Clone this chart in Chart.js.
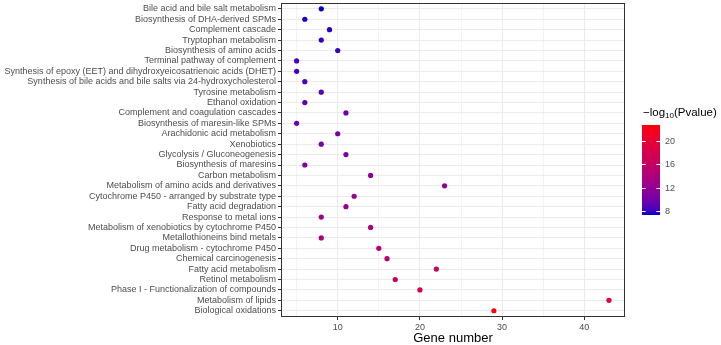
<!DOCTYPE html>
<html>
<head>
<meta charset="utf-8">
<script src="https://cdn.jsdelivr.net/npm/chart.js@4/dist/chart.umd.min.js"></script>
<style>
  html, body { margin: 0; padding: 0; background: #fff; }
  #wrap { width: 721px; height: 345px; }
</style>
</head>
<body>
<div id="wrap"><canvas id="dotChart"></canvas></div>
<script>
// Pathways, top to bottom
const pathways = [
    'Bile acid and bile salt metabolism',
    'Biosynthesis of DHA-derived SPMs',
    'Complement cascade',
    'Tryptophan metabolism',
    'Biosynthesis of amino acids',
    'Terminal pathway of complement',
    'Synthesis of epoxy (EET) and dihydroxyeicosatrienoic acids (DHET)',
    'Synthesis of bile acids and bile salts via 24-hydroxycholesterol',
    'Tyrosine metabolism',
    'Ethanol oxidation',
    'Complement and coagulation cascades',
    'Biosynthesis of maresin-like SPMs',
    'Arachidonic acid metabolism',
    'Xenobiotics',
    'Glycolysis / Gluconeogenesis',
    'Biosynthesis of maresins',
    'Carbon metabolism',
    'Metabolism of amino acids and derivatives',
    'Cytochrome P450 - arranged by substrate type',
    'Fatty acid degradation',
    'Response to metal ions',
    'Metabolism of xenobiotics by cytochrome P450',
    'Metallothioneins bind metals',
    'Drug metabolism - cytochrome P450',
    'Chemical carcinogenesis',
    'Fatty acid metabolism',
    'Retinol metabolism',
    'Phase I - Functionalization of compounds',
    'Metabolism of lipids',
    'Biological oxidations'
];
const geneCounts = [8, 6, 9, 8, 10, 5, 5, 6, 8, 6, 11, 5, 10, 8, 11, 6, 14, 23, 12, 11, 8, 14, 8, 15, 16, 22, 17, 20, 43, 29];
const negLogP = [7.3, 7.4, 7.6, 7.8, 8.0, 8.2, 8.3, 8.5, 8.9, 9.2, 9.6, 9.8, 10.0, 10.3, 10.6, 10.9, 11.3, 11.8, 12.0, 12.4, 12.8, 13.5, 14.0, 14.6, 15.2, 16.0, 16.8, 18.0, 19.5, 22.7];
const xTickValues = [10, 20, 30, 40];
const colorbarTicks = [8, 12, 16, 20];

// gradient (blue -> red, interpolated in Lab like ggplot)
const lowColor = [0, 0, 200];
const highColor = [255, 0, 0];
const pMin = Math.min(...negLogP);
const pMax = Math.max(...negLogP);

function toLinear(c) {
    c /= 255;
    return c <= 0.04045 ? c / 12.92 : Math.pow((c + 0.055) / 1.055, 2.4);
}
function fromLinear(c) {
    const v = c <= 0.0031308 ? 12.92 * c : 1.055 * Math.pow(c, 1 / 2.4) - 0.055;
    return Math.round(Math.max(0, Math.min(1, v)) * 255);
}
function rgbToLab(rgb) {
    const R = toLinear(rgb[0]), G = toLinear(rgb[1]), B = toLinear(rgb[2]);
    const X = (0.4124 * R + 0.3576 * G + 0.1805 * B) / 0.95047;
    const Y = 0.2126 * R + 0.7152 * G + 0.0722 * B;
    const Z = (0.0193 * R + 0.1192 * G + 0.9505 * B) / 1.08883;
    const f = t => t > 0.008856 ? Math.cbrt(t) : 7.787 * t + 16 / 116;
    return [116 * f(Y) - 16, 500 * (f(X) - f(Y)), 200 * (f(Y) - f(Z))];
}
function labToRgb(lab) {
    const fy = (lab[0] + 16) / 116, fx = fy + lab[1] / 500, fz = fy - lab[2] / 200;
    const inv = t => t * t * t > 0.008856 ? t * t * t : (t - 16 / 116) / 7.787;
    const X = 0.95047 * inv(fx), Y = inv(fy), Z = 1.08883 * inv(fz);
    return [
        fromLinear(3.2406 * X - 1.5372 * Y - 0.4986 * Z),
        fromLinear(-0.9689 * X + 1.8758 * Y + 0.0415 * Z),
        fromLinear(0.0557 * X - 0.2040 * Y + 1.0570 * Z)
    ];
}
const lowLab = rgbToLab(lowColor), highLab = rgbToLab(highColor);
function colorFor(v) {
    const t = (v - pMin) / (pMax - pMin);
    const c = labToRgb(lowLab.map((l, i) => l + (highLab[i] - l) * t));
    return `rgb(${c[0]},${c[1]},${c[2]})`;
}

const textGrey = '#4D4D4D';
const fontFamily = '"Liberation Sans", Arial, sans-serif';

// panel border + colourbar legend
const extrasPlugin = {
    id: 'extras',
    afterDraw(chart) {
        const ctx = chart.ctx;
        const a = chart.chartArea;
        ctx.save();
        ctx.strokeStyle = '#333333';
        ctx.lineWidth = 1;
        ctx.strokeRect(Math.round(a.left) + 0.5, Math.round(a.top) + 0.5,
            Math.round(a.right - a.left) - 1, Math.round(a.bottom - a.top) - 1);

        // colourbar
        const bx = 642, bw = 18, by = 125, bh = 90;
        const yOf = v => by + bh - (v - pMin) / (pMax - pMin) * bh;
        const grad = ctx.createLinearGradient(0, by + bh, 0, by);
        for (let i = 0; i <= 20; i++) {
            grad.addColorStop(i / 20, colorFor(pMin + (pMax - pMin) * i / 20));
        }
        ctx.fillStyle = grad;
        ctx.fillRect(bx, by, bw, bh);

        ctx.strokeStyle = '#FFFFFF';
        ctx.fillStyle = textGrey;
        ctx.font = '9px ' + fontFamily;
        ctx.textAlign = 'left';
        ctx.textBaseline = 'middle';
        colorbarTicks.forEach(v => {
            const y = Math.round(yOf(v)) + 0.5;
            ctx.beginPath();
            ctx.moveTo(bx, y); ctx.lineTo(bx + 3.6, y);
            ctx.moveTo(bx + bw - 3.6, y); ctx.lineTo(bx + bw, y);
            ctx.stroke();
            ctx.fillText(String(v), bx + bw + 5, y);
        });

        // title: -log10(Pvalue)
        ctx.fillStyle = '#000000';
        ctx.textBaseline = 'alphabetic';
        ctx.font = '11.5px ' + fontFamily;
        let tx = 643;
        const ty = 116;
        ctx.fillText('\u2212log', tx, ty);
        tx += ctx.measureText('\u2212log').width;
        ctx.font = '8px ' + fontFamily;
        ctx.fillText('10', tx, ty + 2);
        tx += ctx.measureText('10').width;
        ctx.font = '11.5px ' + fontFamily;
        ctx.fillText('(Pvalue)', tx, ty);
        ctx.restore();
    }
};

document.addEventListener('DOMContentLoaded', () => {
    const ctx = document.getElementById('dotChart');
    new Chart(ctx, {
        type: 'scatter',
        data: {
            datasets: [{
                data: geneCounts.map((g, i) => ({ x: g, y: i })),
                backgroundColor: negLogP.map(colorFor),
                borderWidth: 0,
                pointRadius: 2.6,
                pointHoverRadius: 2.6
            }]
        },
        options: {
            responsive: true,
            maintainAspectRatio: false,
            animation: false,
            layout: { padding: { top: 1, right: 96, bottom: 0, left: 0 } },
            plugins: { legend: { display: false }, tooltip: { enabled: false } },
            scales: {
                x: {
                    type: 'linear',
                    min: 3.1,
                    max: 44.95,
                    afterBuildTicks: scale => {
                        scale.ticks = [5, 10, 15, 20, 25, 30, 35, 40].map(v => ({ value: v }));
                    },
                    afterFit: scale => { scale.height = 28; },
                    ticks: {
                        color: textGrey,
                        font: { size: 9, family: fontFamily },
                        padding: 2,
                        maxRotation: 0,
                        autoSkip: false,
                        callback: v => xTickValues.includes(v) ? String(v) : ''
                    },
                    grid: {
                        color: c => xTickValues.includes(c.tick && c.tick.value) ? '#EBEBEB' : '#F3F3F3',
                        tickColor: c => xTickValues.includes(c.tick && c.tick.value) ? '#333333' : 'rgba(0,0,0,0)',
                        tickLength: 3
                    },
                    border: { display: false },
                    title: {
                        display: true,
                        text: 'Gene number',
                        color: '#000000',
                        font: { size: 13, family: fontFamily, lineHeight: 1 },
                        padding: { top: 0, bottom: 0 }
                    }
                },
                y: {
                    type: 'linear',
                    reverse: true,
                    min: -0.6,
                    max: pathways.length - 0.4,
                    afterBuildTicks: scale => {
                        scale.ticks = pathways.map((p, i) => ({ value: i }));
                    },
                    afterFit: scale => {
                        scale.width = 281;
                        scale.paddingTop = 0;
                        scale.paddingBottom = 0;
                    },
                    ticks: {
                        color: textGrey,
                        font: { size: 9, family: fontFamily },
                        padding: 2,
                        autoSkip: false,
                        callback: v => pathways[v]
                    },
                    grid: {
                        color: '#EBEBEB',
                        tickColor: '#333333',
                        tickLength: 3
                    },
                    border: { display: false }
                }
            }
        },
        plugins: [extrasPlugin]
    });
});
</script>
</body>
</html>
